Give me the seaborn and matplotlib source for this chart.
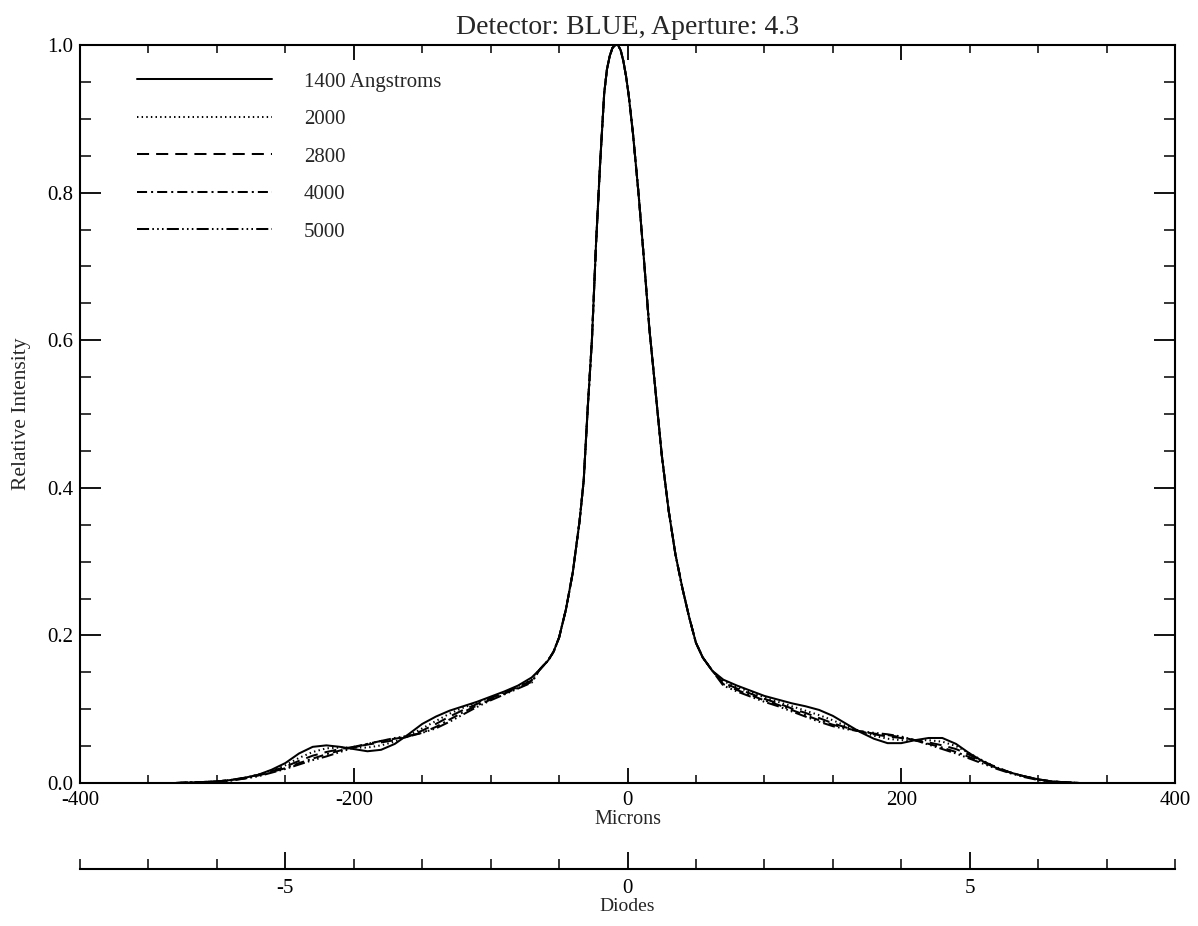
import numpy as np
import pandas as pd
import matplotlib
matplotlib.use("Agg")
import matplotlib.pyplot as plt
import seaborn as sns
from matplotlib.ticker import FixedLocator, MultipleLocator, FixedFormatter

# ---------------- data ----------------
title_text = "Detector: BLUE, Aperture: 4.3"
series_labels = ["1400 Angstroms", "2000", "2800", "4000", "5000"]

left_x = [-330, -300, -290, -280, -270, -260, -250, -240, -230, -220, -210, -200, -190,
          -180, -170, -160, -150, -140, -130, -120, -110, -100, -90, -80, -70]
left_1400 = [0.000, 0.002, 0.004, 0.007, 0.011, 0.018, 0.027, 0.040, 0.049, 0.051, 0.049, 0.046, 0.043,
             0.045, 0.053, 0.066, 0.080, 0.090, 0.098, 0.104, 0.110, 0.117, 0.124, 0.132, 0.143]
left_2000 = [0.000, 0.002, 0.004, 0.007, 0.011, 0.017, 0.024, 0.034, 0.042, 0.047, 0.048, 0.048, 0.048,
             0.051, 0.056, 0.064, 0.074, 0.084, 0.094, 0.102, 0.109, 0.116, 0.123, 0.131, 0.141]
left_2800 = [0.000, 0.002, 0.004, 0.007, 0.011, 0.016, 0.022, 0.030, 0.037, 0.042, 0.046, 0.049, 0.052,
             0.055, 0.058, 0.063, 0.071, 0.080, 0.090, 0.099, 0.107, 0.115, 0.122, 0.130, 0.139]
left_4000 = [0.000, 0.002, 0.004, 0.006, 0.010, 0.015, 0.020, 0.027, 0.033, 0.039, 0.044, 0.049, 0.053,
             0.057, 0.060, 0.063, 0.068, 0.076, 0.086, 0.096, 0.105, 0.113, 0.121, 0.129, 0.137]
left_5000 = [0.000, 0.002, 0.003, 0.006, 0.009, 0.014, 0.019, 0.025, 0.031, 0.036, 0.042, 0.048, 0.053,
             0.057, 0.061, 0.064, 0.068, 0.074, 0.083, 0.093, 0.103, 0.112, 0.120, 0.128, 0.136]

core_x = [-64, -58, -54, -50, -45, -40, -35, -32, -29, -26, -23, -20, -17, -15, -13, -11, -9, -7,
          -5, -3, -1, 1, 4, 8, 12, 16, 20, 25, 30, 35, 40, 45, 50, 55, 62]
core_y = [0.154, 0.166, 0.178, 0.197, 0.235, 0.285, 0.355, 0.410, 0.510, 0.600, 0.730, 0.840,
          0.935, 0.967, 0.985, 0.996, 1.000, 1.000, 0.993, 0.978, 0.957, 0.930, 0.880, 0.800,
          0.710, 0.615, 0.540, 0.445, 0.370, 0.310, 0.265, 0.225, 0.190, 0.170, 0.152]

right_x = [70, 80, 90, 100, 110, 120, 130, 140, 150, 160, 170, 180, 190, 200, 210, 220, 230,
           240, 250, 260, 270, 280, 290, 300, 310, 330]
right_1400 = [0.140, 0.132, 0.125, 0.118, 0.113, 0.108, 0.104, 0.099, 0.091, 0.080, 0.069, 0.060, 0.054,
              0.054, 0.058, 0.061, 0.061, 0.053, 0.040, 0.029, 0.020, 0.014, 0.009, 0.005, 0.002, 0.000]
right_2000 = [0.138, 0.130, 0.123, 0.116, 0.110, 0.104, 0.098, 0.092, 0.085, 0.077, 0.070, 0.064, 0.060,
              0.058, 0.058, 0.058, 0.056, 0.050, 0.040, 0.030, 0.021, 0.014, 0.009, 0.005, 0.002, 0.000]
right_2800 = [0.136, 0.128, 0.121, 0.114, 0.108, 0.101, 0.095, 0.088, 0.081, 0.075, 0.070, 0.066, 0.063,
              0.061, 0.058, 0.055, 0.051, 0.046, 0.038, 0.029, 0.021, 0.014, 0.009, 0.005, 0.002, 0.000]
right_4000 = [0.134, 0.126, 0.119, 0.112, 0.106, 0.099, 0.092, 0.085, 0.079, 0.074, 0.070, 0.067, 0.065,
              0.062, 0.058, 0.053, 0.048, 0.042, 0.035, 0.028, 0.020, 0.014, 0.009, 0.005, 0.002, 0.000]
right_5000 = [0.132, 0.124, 0.117, 0.110, 0.104, 0.097, 0.090, 0.083, 0.077, 0.073, 0.070, 0.068, 0.066,
              0.063, 0.058, 0.052, 0.046, 0.040, 0.033, 0.026, 0.019, 0.013, 0.008, 0.004, 0.002, 0.000]

x_ticks = [-400, -200, 0, 200, 400]
x_tick_labels = ["-400", "-200", "0", "200", "400"]
y_ticks = [0.0, 0.2, 0.4, 0.6, 0.8, 1.0]
y_tick_labels = ["0.0", "0.2", "0.4", "0.6", "0.8", "1.0"]
diode_ticks = [-5, 0, 5]
diode_tick_labels = ["-5", "0", "5"]
diode_minor = list(range(-8, 9))
microns_per_diode = 50.0

# ---------------- build table ----------------
left_sets = [left_1400, left_2000, left_2800, left_4000, left_5000]
right_sets = [right_1400, right_2000, right_2800, right_4000, right_5000]
x_all = left_x + core_x + right_x
rows = []
for lab, lv, rv in zip(series_labels, left_sets, right_sets):
    for xv, yv in zip(x_all, lv + core_y + rv):
        rows.append((lab, xv, yv))
df = pd.DataFrame(rows, columns=["wavelength", "microns", "intensity"])

# ---------------- plot ----------------
sns.set_style("ticks")
plt.rcParams['font.family'] = ['Liberation Serif', 'DejaVu Serif']
plt.rcParams['axes.edgecolor'] = 'black'

W, H = 1198, 926
fig = plt.figure(figsize=(W / 100, H / 100), dpi=100)
L, R, T, B = 80, 1175, 45, 783
ax = fig.add_axes([L / W, 1 - B / H, (R - L) / W, (B - T) / H])

styles = ['-', (0, (0.7, 1.6)), (0, (6, 3.5)), (0, (5, 2, 1, 2)),
          (0, (6, 1.6, 0.8, 1.6, 0.8, 1.6, 0.8, 1.6))]
for lab, st in zip(series_labels, styles):
    sub = df[df["wavelength"] == lab]
    sns.lineplot(data=sub, x="microns", y="intensity", ax=ax, color="black",
                 lw=1.45, linestyle=st, label=lab, sort=False, estimator=None)

ax.set_xlim(-400, 400)
ax.set_ylim(0, 1.0)
ax.xaxis.set_major_locator(FixedLocator(x_ticks))
ax.xaxis.set_major_formatter(FixedFormatter(x_tick_labels))
ax.xaxis.set_minor_locator(MultipleLocator(50))
ax.yaxis.set_major_locator(FixedLocator(y_ticks))
ax.yaxis.set_major_formatter(FixedFormatter(y_tick_labels))
ax.yaxis.set_minor_locator(MultipleLocator(0.05))

ax.tick_params(axis='both', which='both', direction='in', top=True, right=True,
               colors='black')
ax.tick_params(axis='x', which='major', length=11, width=1.3, pad=6, labelsize=15)
ax.tick_params(axis='x', which='minor', length=6, width=1.1)
ax.tick_params(axis='y', which='major', length=15, width=1.3, pad=5, labelsize=15)
ax.tick_params(axis='y', which='minor', length=8, width=1.1)
for sp in ax.spines.values():
    sp.set_linewidth(1.5)
    sp.set_color('black')

ax.set_title(title_text, fontsize=20, pad=8)
ax.set_xlabel("Microns", fontsize=14.5, labelpad=0)
ax.set_ylabel("Relative Intensity", fontsize=15.5)
ax.yaxis.set_label_coords(-0.045, 0.5)

leg = ax.legend(loc='upper left', bbox_to_anchor=((137 - L) / (R - L), 1 - 27 / (B - T)),
                frameon=False, handlelength=6.5, handletextpad=1.5, labelspacing=0.86,
                fontsize=15, borderaxespad=0, borderpad=0)

# secondary diode axis
sec = ax.secondary_xaxis(-(869 - B) / (B - T),
                         functions=(lambda m: m / microns_per_diode,
                                    lambda d: d * microns_per_diode))
sec.xaxis.set_major_locator(FixedLocator(diode_ticks))
sec.xaxis.set_major_formatter(FixedFormatter(diode_tick_labels))
sec.xaxis.set_minor_locator(FixedLocator(diode_minor))
sec.tick_params(axis='x', which='major', direction='in', length=12, width=1.3, pad=7,
                labelsize=15, colors='black')
sec.tick_params(axis='x', which='minor', direction='in', length=7, width=1.1, colors='black')
sec.spines['bottom'].set_linewidth(1.5)
sec.spines['bottom'].set_color('black')
sec.set_xlabel("Diodes", fontsize=14, labelpad=0)

fig.savefig("out.png", dpi=100, facecolor='white')
